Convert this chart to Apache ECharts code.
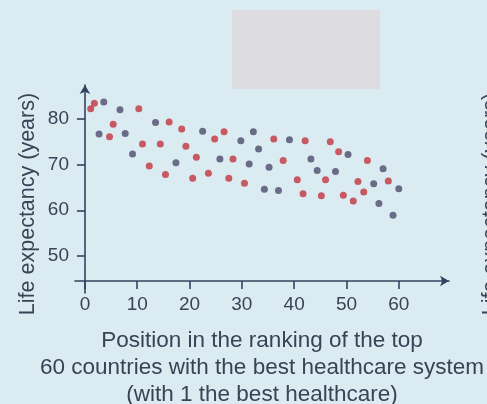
<!DOCTYPE html>
<html>
<head>
<meta charset="utf-8">
<script src="https://cdn.jsdelivr.net/npm/echarts@6/dist/echarts.min.js"></script>
<style>
  html, body { margin: 0; padding: 0; background: #daecf2; }
  #chart { width: 487px; height: 404px; }
</style>
</head>
<body>
<div id="chart"></div>
<script>
// Life expectancy vs healthcare ranking scatter

// tick labels
var xTicks = [0, 10, 20, 30, 40, 50, 60];
var yTicks = [50, 60, 70, 80];

// red points [rank, life expectancy]
var redPoints = [
    [1.1, 82.2], [1.8, 83.4], [4.7, 76.1], [5.4, 78.8], [10.3, 82.2],
    [11.0, 74.5], [12.3, 69.7], [14.4, 74.5], [15.4, 67.8], [16.1, 79.3],
    [18.5, 77.8], [19.3, 74.0], [20.6, 67.0], [21.3, 71.6], [23.6, 68.1],
    [24.8, 75.6], [26.6, 77.2], [27.5, 67.0], [28.3, 71.2], [30.5, 65.9],
    [36.1, 75.6], [37.9, 70.9], [40.6, 66.7], [41.7, 63.6], [42.1, 75.2],
    [45.2, 63.2], [46.0, 66.7], [46.9, 75.0], [48.5, 72.8], [49.4, 63.3],
    [51.3, 62.0], [52.2, 66.3], [53.3, 64.0], [54.0, 70.9], [58.0, 66.4]
];

// dark points [rank, life expectancy]
var darkPoints = [
    [2.7, 76.7], [3.6, 83.7], [6.7, 82.0], [7.7, 76.8], [9.1, 72.3],
    [13.5, 79.2], [17.4, 70.4], [22.5, 77.3], [25.8, 71.2], [29.8, 75.2],
    [31.4, 70.1], [32.2, 77.2], [33.2, 73.4], [34.3, 64.6], [35.2, 69.4],
    [37.0, 64.3], [39.1, 75.4], [43.2, 71.2], [44.4, 68.7], [47.9, 68.5],
    [50.3, 72.2], [55.2, 65.8], [56.2, 61.5], [57.0, 69.1], [58.9, 58.9],
    [60.0, 64.7]
];

var yTitle = 'Life expectancy (years)';
var xTitle = 'Position in the ranking of the top\n60 countries with the best healthcare system\n(with 1 the best healthcare)';

var axisColor = '#34425f';
var textColor = '#3a4256';
var fontName = 'Liberation Sans';

var chart = echarts.init(document.getElementById('chart'));

var option = {
    backgroundColor: '#daecf2',
    animation: false,
    grid: {
        left: 75,
        top: 85,
        width: 374,
        height: 208,
        outerBoundsMode: 'none',
        containLabel: false
    },
    xAxis: {
        type: 'value',
        min: -1.9,
        max: 69.6,
        offset: -12,
        splitLine: { show: false },
        axisLine: {
            onZero: false,
            symbol: ['none', 'arrow'],
            symbolSize: [8, 9],
            lineStyle: { color: axisColor, width: 1.6 }
        },
        axisTick: {
            customValues: xTicks,
            length: 8,
            lineStyle: { color: axisColor, width: 1.6 }
        },
        axisLabel: {
            customValues: xTicks,
            margin: 14,
            color: textColor,
            fontSize: 19,
            fontFamily: fontName
        },
        name: xTitle,
        nameLocation: 'middle',
        nameGap: 46,
        nameTextStyle: {
            color: textColor,
            fontSize: 22.5,
            lineHeight: 27,
            fontFamily: fontName
        }
    },
    yAxis: {
        type: 'value',
        min: 41.9,
        max: 87.4,
        splitLine: { show: false },
        axisLine: {
            onZero: true,
            symbol: ['none', 'arrow'],
            symbolSize: [8, 9],
            lineStyle: { color: axisColor, width: 1.6 }
        },
        axisTick: {
            customValues: yTicks,
            length: 8,
            lineStyle: { color: axisColor, width: 1.6 }
        },
        axisLabel: {
            customValues: yTicks,
            margin: 6,
            color: textColor,
            fontSize: 19,
            fontFamily: fontName
        }
    },
    graphic: [
        {
            type: 'rect',
            shape: { x: 232, y: 10, width: 148, height: 79 },
            style: { fill: '#dddde1' }
        },
        {
            type: 'text',
            x: 28,
            y: 204,
            rotation: Math.PI / 2,
            style: {
                text: yTitle,
                fill: textColor,
                fontSize: 21.5,
                fontFamily: fontName,
                textAlign: 'center',
                textVerticalAlign: 'middle'
            }
        },
        {
            type: 'text',
            x: 491,
            y: 204,
            rotation: Math.PI / 2,
            style: {
                text: yTitle,
                fill: textColor,
                fontSize: 21.5,
                fontFamily: fontName,
                textAlign: 'center',
                textVerticalAlign: 'middle'
            }
        }
    ],
    series: [
        {
            name: 'Red',
            type: 'scatter',
            symbolSize: 7,
            itemStyle: { color: '#c2343f' },
            data: redPoints
        },
        {
            name: 'Dark',
            type: 'scatter',
            symbolSize: 7,
            itemStyle: { color: '#4d4c6b' },
            data: darkPoints
        }
    ]
};

chart.setOption(option);
</script>
</body>
</html>
